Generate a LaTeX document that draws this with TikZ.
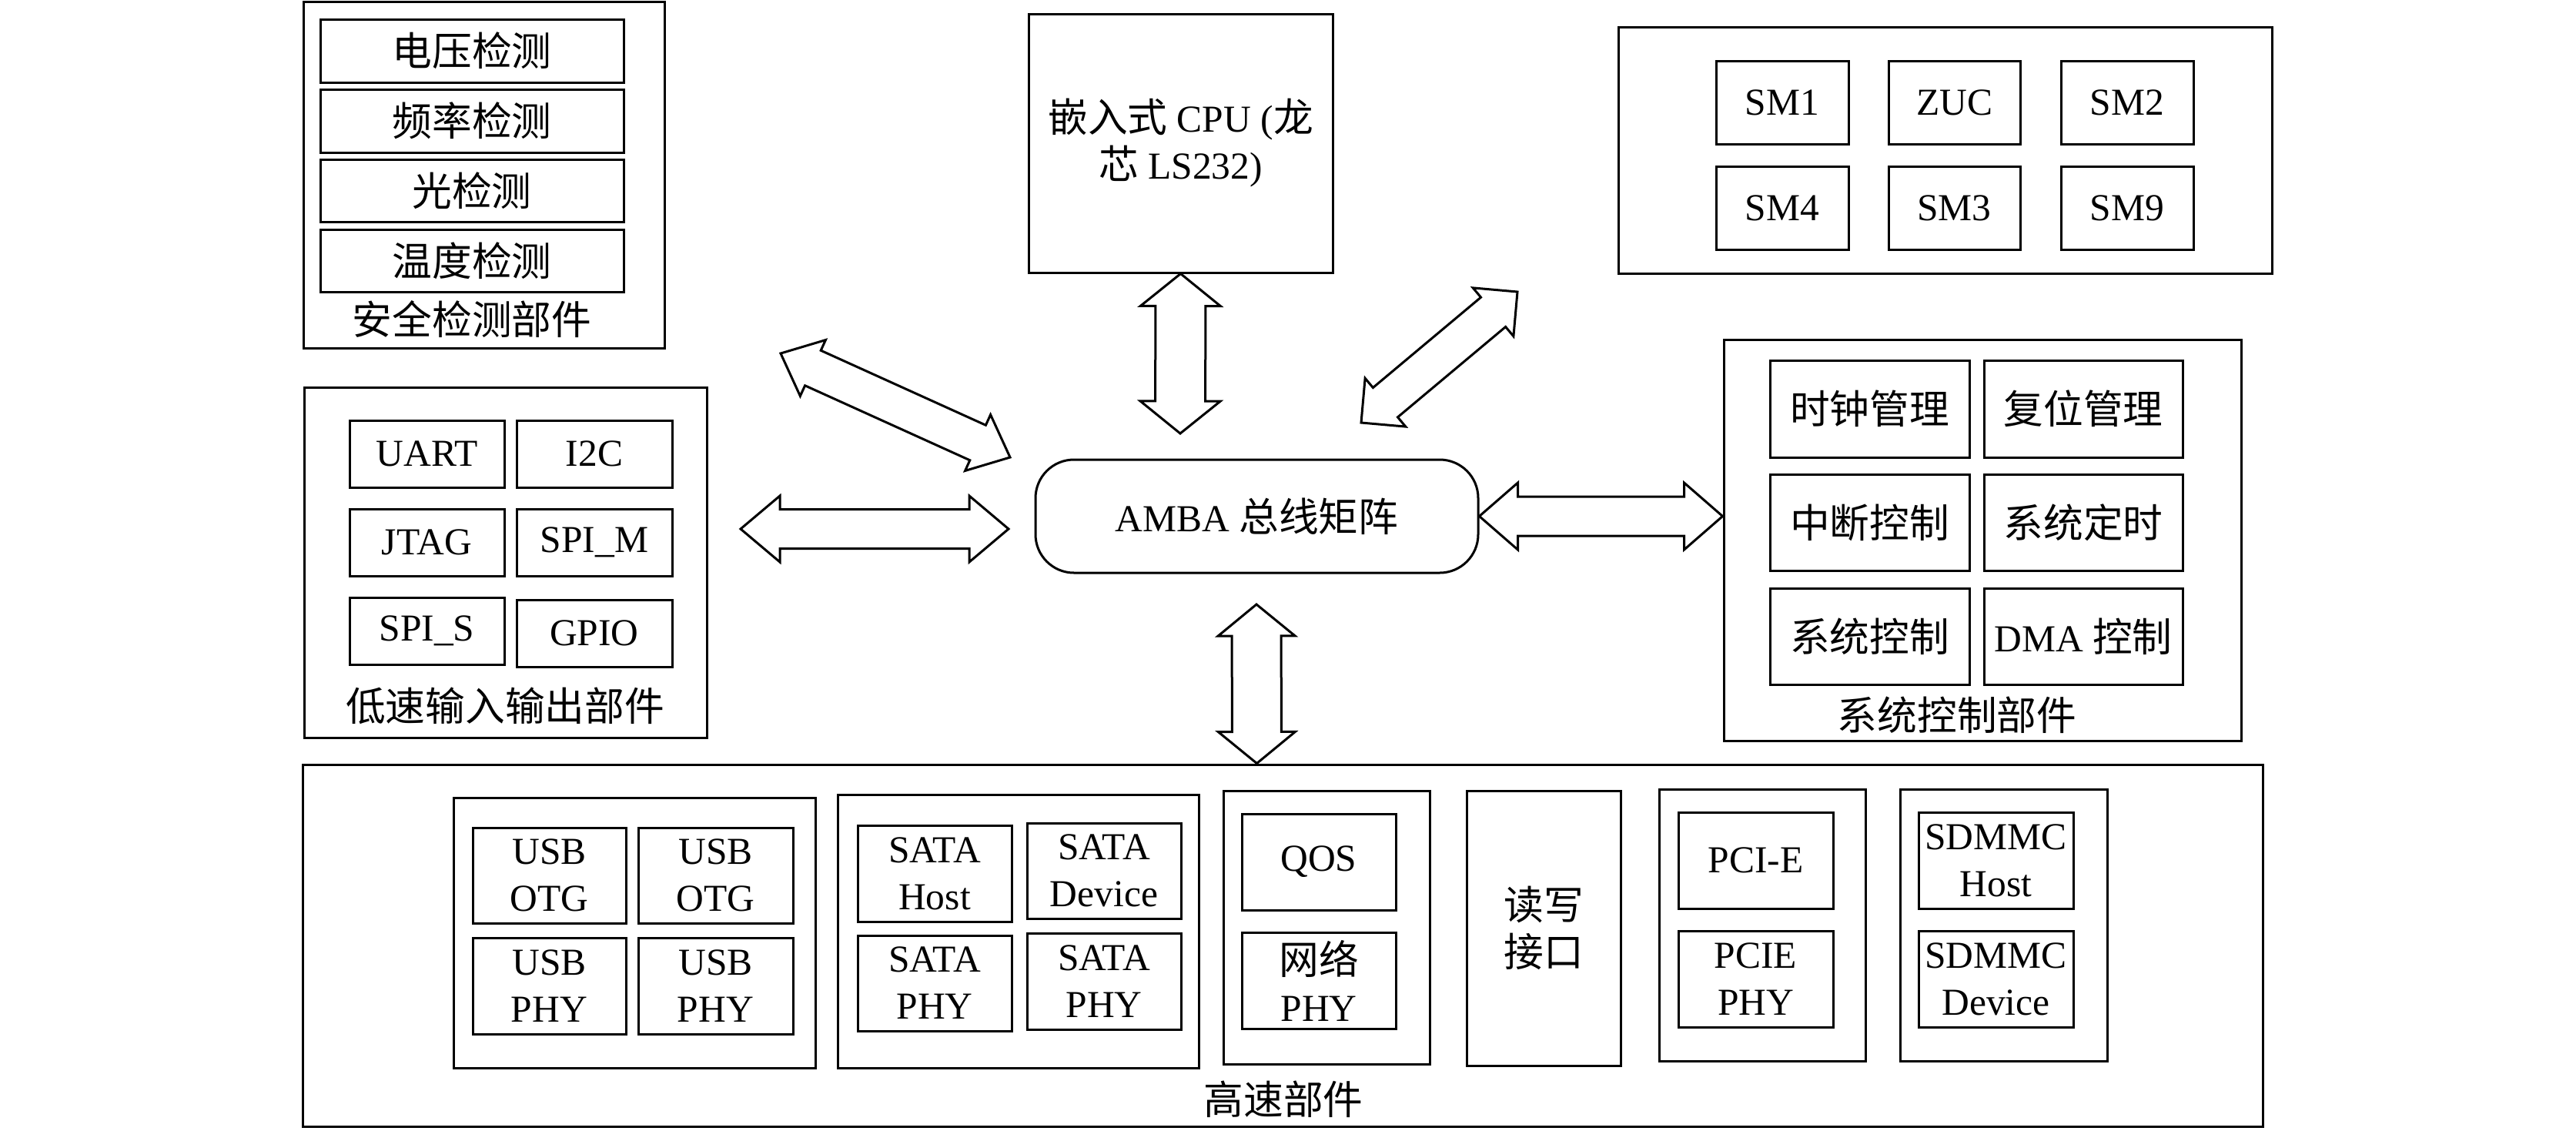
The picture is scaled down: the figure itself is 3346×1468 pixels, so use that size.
\documentclass[tikz,border=0pt]{standalone}
\usepackage{fontspec}
\setmainfont{Liberation Serif}
\newfontfamily\cjk[Scale=1.045]{Noto Sans CJK SC}
\usetikzlibrary{calc}
\newcommand\zh[1]{{\cjk #1}}
% [style] name x1 y1 x2 y2 text
\newcommand\blk[7][]{\node[box,#1,minimum width={(#5)-(#3)},minimum height={(#6)-(#4)}] (#2) at ({((#3)+(#5))/2},{((#4)+(#6))/2}) {#7};}
% double block arrow: A B shaft-half head-half head-length
\newcommand\dbl[5]{\draw[arr] (#1) -- ($(#1)!#5!(#2)!#4!90:(#2)$) -- ($(#1)!#5!(#2)!#3!90:(#2)$) -- ($(#2)!#5!(#1)!#3!-90:(#1)$) -- ($(#2)!#5!(#1)!#4!-90:(#1)$) -- (#2) -- ($(#2)!#5!(#1)!#4!90:(#1)$) -- ($(#2)!#5!(#1)!#3!90:(#1)$) -- ($(#1)!#5!(#2)!#3!-90:(#2)$) -- ($(#1)!#5!(#2)!#4!-90:(#2)$) -- cycle;}
\begin{document}
\begin{tikzpicture}[x=1pt,y=-1pt,
  every node/.style={font=\fontsize{49.5}{61}\selectfont, inner sep=0pt, align=center},
  box/.style={draw, line width=3pt},
  arr/.style={draw, line width=3pt, line join=miter},
  amba/.style={rounded corners=50pt}]
\useasboundingbox (0,0) rectangle (3346,1468);

% security detection
\blk{safe}{394}{2}{863}{452}{}
\blk{v1}{416}{25}{810}{107}{\zh{电压检测}}
\blk{v2}{416}{116}{810}{198}{\zh{频率检测}}
\blk{v3}{416}{207}{810}{288}{\zh{光检测}}
\blk{v4}{416}{298}{810}{379}{\zh{温度检测}}
\node (safeL) at (613,415) {\zh{安全检测部件}};

% CPU
\blk{cpu}{1336}{18}{1731}{354}{\zh{嵌入式} CPU (\zh{龙}\\\zh{芯} LS232)}

% crypto
\blk{crypt}{2102}{35}{2951}{355}{}
\blk{sm1}{2229}{79}{2401}{187}{SM1}
\blk{zuc}{2453}{79}{2624}{187}{ZUC}
\blk{sm2}{2677}{79}{2849}{187}{SM2}
\blk{sm4}{2229}{216}{2401}{324}{SM4}
\blk{sm3}{2453}{216}{2624}{324}{SM3}
\blk{sm9}{2677}{216}{2849}{324}{SM9}

% low speed IO
\blk{lio}{395}{503}{918}{958}{}
\blk{uart}{454}{546}{655}{633}{UART}
\blk{iic}{671}{546}{873}{633}{I2C}
\blk{jtag}{454}{661}{655}{748}{JTAG}
\blk{spim}{671}{661}{873}{748}{SPI\_M}
\blk{spis}{454}{776}{655}{863}{SPI\_S}
\blk{gpio}{671}{779}{873}{866}{GPIO}
\node (lioL) at (656,917) {\zh{低速输入输出部件}};

% AMBA
\blk[amba]{amba}{1345}{597}{1920}{744}{AMBA \zh{总线矩阵}}

% system control
\blk{sys}{2239}{441}{2911}{962}{}
\blk{clk}{2299}{468}{2558}{594}{\zh{时钟管理}}
\blk{rst}{2577}{468}{2835}{594}{\zh{复位管理}}
\blk{irq}{2299}{616}{2558}{741}{\zh{中断控制}}
\blk{tmr}{2577}{616}{2835}{741}{\zh{系统定时}}
\blk{sctl}{2299}{764}{2558}{889}{\zh{系统控制}}
\blk{dma}{2577}{764}{2835}{889}{DMA \zh{控制}}
\node (sysL) at (2542,929) {\zh{系统控制部件}};

% high speed
\blk{hs}{393}{993}{2939}{1463}{}
\node (hsL) at (1667,1428) {\zh{高速部件}};
\blk{usbg}{589}{1036}{1059}{1387}{}
\blk{otg1}{614}{1075}{813}{1199}{USB\\OTG}
\blk{otg2}{829}{1075}{1030}{1199}{USB\\OTG}
\blk{uphy1}{614}{1218}{813}{1343}{USB\\PHY}
\blk{uphy2}{829}{1218}{1030}{1343}{USB\\PHY}
\blk{satag}{1088}{1032}{1557}{1387}{}
\blk{satah}{1114}{1072}{1314}{1197}{SATA\\Host}
\blk{satad}{1334}{1069}{1534}{1193}{SATA\\Device}
\blk{sphy1}{1114}{1215}{1314}{1339}{SATA\\PHY}
\blk{sphy2}{1334}{1212}{1534}{1337}{SATA\\PHY}
\blk{qosg}{1589}{1027}{1857}{1382}{}
\blk{qos}{1613}{1057}{1813}{1182}{QOS}
\blk{nphy}{1613}{1211}{1813}{1336}{\zh{网络}\\PHY}
\blk{rw}{1905}{1027}{2105}{1384}{\zh{读写}\\\zh{接口}}
\blk{pcig}{2155}{1025}{2423}{1378}{}
\blk{pcie}{2180}{1055}{2381}{1180}{PCI-E}
\blk{pphy}{2180}{1209}{2381}{1334}{PCIE\\PHY}
\blk{sdg}{2468}{1025}{2737}{1378}{}
\blk{sdh}{2492}{1055}{2693}{1180}{SDMMC\\Host}
\blk{sdd}{2492}{1209}{2693}{1334}{SDMMC\\Device}

% arrows
\coordinate (a1s) at (962,687);
\coordinate (a1e) at (1310,687);
\coordinate (a3e) at (1533,563);
\coordinate (a4s) at (1632,785);
\coordinate (a4e) at (amba.south |- hs.north);
\coordinate (a2e) at (amba.east -| sys.west);
\coordinate (a5s) at (1014,459);
\coordinate (a5e) at (1312,594);
\coordinate (a6s) at (1971,379);
\coordinate (a6e) at (1768,549);
\dbl{a1s}{a1e}{25.5pt}{43pt}{51pt}
\dbl{amba.east}{a2e}{25.5pt}{43.5pt}{50pt}
\dbl{cpu.south}{a3e}{32.5pt}{52pt}{42pt}
\dbl{a4s}{a4e}{32pt}{50pt}{41pt}
\dbl{a5s}{a5e}{25pt}{40pt}{46pt}
\dbl{a6s}{a6e}{25pt}{41pt}{41pt}
\end{tikzpicture}
\end{document}
